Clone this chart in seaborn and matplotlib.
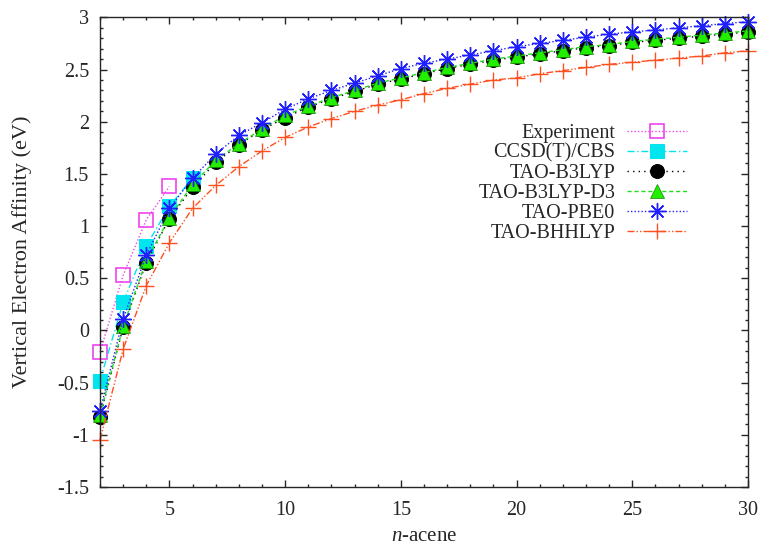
import numpy as np
import pandas as pd
import matplotlib
matplotlib.use("Agg")
import matplotlib.pyplot as plt
import seaborn as sns
from matplotlib.ticker import MultipleLocator

# Data
n_all = list(range(2, 31))
n_small = [2, 3, 4, 5]
n_ccsd = [2, 3, 4, 5, 6]

experiment = [-0.21, 0.53, 1.06, 1.38]
ccsd = [-0.48, 0.27, 0.81, 1.19, 1.46]
b3lyp = [-0.83, 0.03, 0.65, 1.07, 1.37, 1.61, 1.78, 1.92, 2.04, 2.14, 2.22, 2.29,
         2.36, 2.41, 2.46, 2.51, 2.55, 2.59, 2.62, 2.65, 2.68, 2.71, 2.73, 2.76,
         2.78, 2.80, 2.82, 2.84, 2.86]
b3lyp_d3 = [-0.81, 0.04, 0.67, 1.08, 1.40, 1.63, 1.79, 1.93, 2.06, 2.15, 2.23, 2.30,
            2.37, 2.42, 2.47, 2.52, 2.56, 2.60, 2.63, 2.66, 2.69, 2.72, 2.74, 2.77,
            2.79, 2.81, 2.83, 2.85, 2.87]
pbe0 = [-0.77, 0.11, 0.72, 1.17, 1.46, 1.69, 1.87, 1.99, 2.12, 2.22, 2.30, 2.37,
        2.44, 2.51, 2.56, 2.60, 2.64, 2.68, 2.72, 2.75, 2.78, 2.81, 2.84, 2.86,
        2.88, 2.90, 2.92, 2.94, 2.96]
bhhlyp = [-1.05, -0.18, 0.43, 0.84, 1.17, 1.39, 1.57, 1.72, 1.85, 1.95, 2.03, 2.10,
          2.16, 2.21, 2.27, 2.32, 2.36, 2.40, 2.42, 2.46, 2.49, 2.52, 2.55, 2.57,
          2.59, 2.61, 2.63, 2.66, 2.68]

sns.set_style("ticks")
plt.rcParams["font.family"] = ["Liberation Serif", "DejaVu Serif"]
plt.rcParams["mathtext.fontset"] = "custom"
plt.rcParams["mathtext.it"] = "Liberation Serif:italic"
plt.rcParams["mathtext.rm"] = "Liberation Serif"
plt.rcParams["axes.unicode_minus"] = False

fs = 14.5

fig = plt.figure(figsize=(7.61, 5.48), dpi=100)
ax = fig.add_axes([0.1314, 0.1113, 0.8516, 0.857])

series = [
    ("Experiment", n_small, experiment, dict(color="#ee44ee", linestyle=(0, (1, 1.5)),
                                             marker="s", markersize=10, markerfacecolor="none",
                                             markeredgecolor="#ee44ee", markeredgewidth=1.2)),
    ("CCSD(T)/CBS", n_ccsd, ccsd, dict(color="#00e5ee", linestyle=(0, (5, 2, 1, 2)),
                                       marker="s", markersize=10, markerfacecolor="#00e5ee",
                                       markeredgecolor="#00e5ee")),
    ("TAO-B3LYP", n_all, b3lyp, dict(color="black", linestyle=(0, (1, 3)),
                                     marker="o", markersize=10, markerfacecolor="black",
                                     markeredgecolor="black")),
    ("TAO-B3LYP-D3", n_all, b3lyp_d3, dict(color="#22dd22", linestyle=(0, (3, 2)),
                                           marker="^", markersize=10, markerfacecolor="#22ee00",
                                           markeredgecolor="#118800", markeredgewidth=0.5)),
    ("TAO-PBE0", n_all, pbe0, dict(color="#2020ff", linestyle=(0, (1, 1.5)),
                                   marker=(8, 2, 0), markersize=12, markeredgecolor="#2020ff",
                                   markeredgewidth=1.0)),
    ("TAO-BHHLYP", n_all, bhhlyp, dict(color="#ff5020", linestyle=(0, (5, 1.5, 1, 1.5, 1, 1.5)),
                                       marker="+", markersize=12, markeredgecolor="#ff5020",
                                       markeredgewidth=1.0)),
]

for label, xs, ys, style in series:
    sns.lineplot(x=xs, y=ys, ax=ax, label=label, linewidth=1.0, clip_on=False, **style)

ax.set_xlim(2, 30)
ax.set_ylim(-1.5, 3)
ax.xaxis.set_major_locator(MultipleLocator(5))
ax.xaxis.set_minor_locator(MultipleLocator(1))
ax.yaxis.set_major_locator(MultipleLocator(0.5))
ax.yaxis.set_minor_locator(MultipleLocator(0.1))
ax.yaxis.set_major_formatter(plt.FuncFormatter(lambda v, p: f"{v:g}"))
ax.tick_params(which="both", direction="in", top=True, right=True, labelsize=fs, width=1)
ax.tick_params(which="major", length=5)
ax.tick_params(which="minor", length=2.5)
ax.tick_params(axis="x", which="major", pad=10)
ax.tick_params(axis="y", which="major", pad=8)
for sp in ax.spines.values():
    sp.set_visible(True)
    sp.set_linewidth(1)

ax.set_xlabel("$n$-acene", fontsize=fs + 0.5, labelpad=5)
ax.set_ylabel("Vertical Electron Affinity (eV)", fontsize=fs + 1.5, labelpad=18)

ax.legend(loc="upper right", bbox_to_anchor=(0.906, 0.774), frameon=False, markerfirst=False,
          fontsize=fs, handlelength=3.0, handletextpad=0.57, labelspacing=0.05,
          borderaxespad=0, borderpad=0)

fig.savefig("out.png", dpi=100)
